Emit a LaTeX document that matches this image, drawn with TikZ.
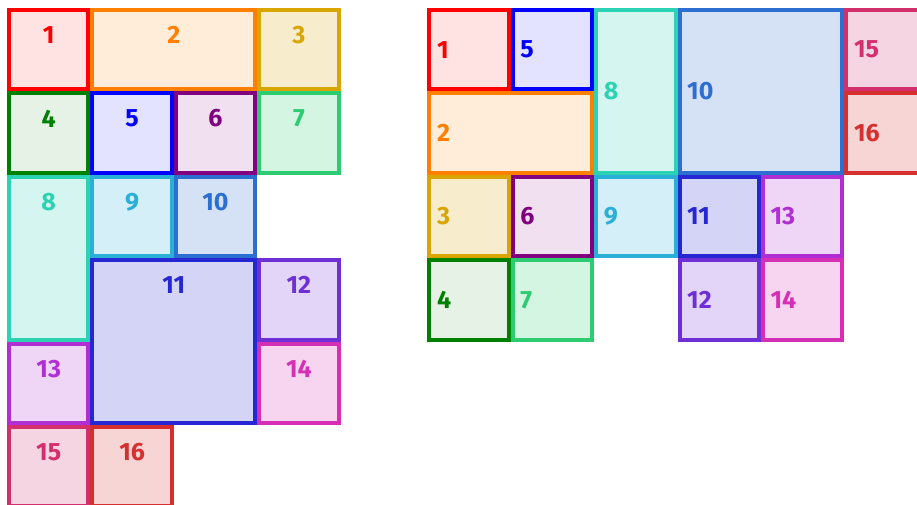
\documentclass[tikz,border=0pt]{standalone}
\usepackage{fontspec}
\setmainfont{Fira Sans}
\usepackage{tikz}
\definecolor{c1}{HTML}{FF0000}
\definecolor{c2}{HTML}{FF7F00}
\definecolor{c3}{HTML}{D9A500}
\definecolor{c4}{HTML}{008000}
\definecolor{c5}{HTML}{0000FF}
\definecolor{c6}{HTML}{800080}
\definecolor{c7}{HTML}{2ECC71}
\definecolor{c8}{HTML}{2BD2B4}
\definecolor{c9}{HTML}{2AAFD6}
\definecolor{c10}{HTML}{2C6FD1}
\definecolor{c11}{HTML}{2626D2}
\definecolor{c12}{HTML}{6F2FD7}
\definecolor{c13}{HTML}{B02ED3}
\definecolor{c14}{HTML}{D52FB5}
\definecolor{c15}{HTML}{D42F6D}
\definecolor{c16}{HTML}{D62F2F}
\colorlet{f1}{c1!11}
\colorlet{f2}{c2!15}
\colorlet{f3}{c3!20}
\colorlet{f4}{c4!10}
\colorlet{f5}{c5!11}
\colorlet{f6}{c6!12}
\colorlet{f7}{c7!20}
\colorlet{f8}{c8!20}
\colorlet{f9}{c9!20}
\colorlet{f10}{c10!20}
\colorlet{f11}{c11!20}
\colorlet{f12}{c12!20}
\colorlet{f13}{c13!20}
\colorlet{f14}{c14!20}
\colorlet{f15}{c15!20}
\colorlet{f16}{c16!20}

\begin{document}
\begin{tikzpicture}[
    x=83.4pt,y=-83.4pt,
    cell/.style={draw,line width=4pt,inner sep=0pt,outer sep=0pt,anchor=north west,
                 xshift=2pt,yshift=-2pt,minimum width=79.4pt,minimum height=79.4pt},
    wide/.style={cell,minimum width=162.8pt},
    tall/.style={cell,minimum height=162.8pt},
    big/.style={cell,minimum width=162.8pt,minimum height=162.8pt},
    every label/.style={inner sep=0pt,font=\fontsize{25}{25}\selectfont\bfseries},
    lbtop/.style={anchor=center},
    lbleft/.style={anchor=west}]
    \useasboundingbox (0pt,0pt) rectangle (917pt,-505pt);
    % left grid
    \begin{scope}[shift={(7pt,-8pt)},label distance=-25pt]
      \node[cell,draw=c1,fill=f1,label={[c1,lbtop]north:1}]    (l1)  at (0,0) {};
      \node[wide,draw=c2,fill=f2,label={[c2,lbtop]north:2}]    (l2)  at (1,0) {};
      \node[cell,draw=c3,fill=f3,label={[c3,lbtop]north:3}]    (l3)  at (3,0) {};
      \node[cell,draw=c4,fill=f4,label={[c4,lbtop]north:4}]    (l4)  at (0,1) {};
      \node[cell,draw=c5,fill=f5,label={[c5,lbtop]north:5}]    (l5)  at (1,1) {};
      \node[cell,draw=c6,fill=f6,label={[c6,lbtop]north:6}]    (l6)  at (2,1) {};
      \node[cell,draw=c7,fill=f7,label={[c7,lbtop]north:7}]    (l7)  at (3,1) {};
      \node[tall,draw=c8,fill=f8,label={[c8,lbtop]north:8}]    (l8)  at (0,2) {};
      \node[cell,draw=c9,fill=f9,label={[c9,lbtop]north:9}]    (l9)  at (1,2) {};
      \node[cell,draw=c10,fill=f10,label={[c10,lbtop]north:10}] (l10) at (2,2) {};
      \node[big,draw=c11,fill=f11,label={[c11,lbtop]north:11}]  (l11) at (1,3) {};
      \node[cell,draw=c12,fill=f12,label={[c12,lbtop]north:12}] (l12) at (3,3) {};
      \node[cell,draw=c13,fill=f13,label={[c13,lbtop]north:13}] (l13) at (0,4) {};
      \node[cell,draw=c14,fill=f14,label={[c14,lbtop]north:14}] (l14) at (3,4) {};
      \node[cell,draw=c15,fill=f15,label={[c15,lbtop]north:15}] (l15) at (0,5) {};
      \node[cell,draw=c16,fill=f16,label={[c16,lbtop]north:16}] (l16) at (1,5) {};
    \end{scope}
    % right grid
    \begin{scope}[shift={(427.3pt,-8pt)},label distance=-7.5pt]
      \node[cell,draw=c1,fill=f1,label={[c1,lbleft]west:1}]    (r1)  at (0,0) {};
      \node[cell,draw=c5,fill=f5,label={[c5,lbleft]west:5}]    (r5)  at (1,0) {};
      \node[tall,draw=c8,fill=f8,label={[c8,lbleft]west:8}]    (r8)  at (2,0) {};
      \node[big,draw=c10,fill=f10,label={[c10,lbleft]west:10}]  (r10) at (3,0) {};
      \node[cell,draw=c15,fill=f15,label={[c15,lbleft]west:15}] (r15) at (5,0) {};
      \node[wide,draw=c2,fill=f2,label={[c2,lbleft]west:2}]    (r2)  at (0,1) {};
      \node[cell,draw=c16,fill=f16,label={[c16,lbleft]west:16}] (r16) at (5,1) {};
      \node[cell,draw=c3,fill=f3,label={[c3,lbleft]west:3}]    (r3)  at (0,2) {};
      \node[cell,draw=c6,fill=f6,label={[c6,lbleft]west:6}]    (r6)  at (1,2) {};
      \node[cell,draw=c9,fill=f9,label={[c9,lbleft]west:9}]    (r9)  at (2,2) {};
      \node[cell,draw=c11,fill=f11,label={[c11,lbleft]west:11}] (r11) at (3,2) {};
      \node[cell,draw=c13,fill=f13,label={[c13,lbleft]west:13}] (r13) at (4,2) {};
      \node[cell,draw=c4,fill=f4,label={[c4,lbleft]west:4}]    (r4)  at (0,3) {};
      \node[cell,draw=c7,fill=f7,label={[c7,lbleft]west:7}]    (r7)  at (1,3) {};
      \node[cell,draw=c12,fill=f12,label={[c12,lbleft]west:12}] (r12) at (3,3) {};
      \node[cell,draw=c14,fill=f14,label={[c14,lbleft]west:14}] (r14) at (4,3) {};
    \end{scope}
\end{tikzpicture}
\end{document}
